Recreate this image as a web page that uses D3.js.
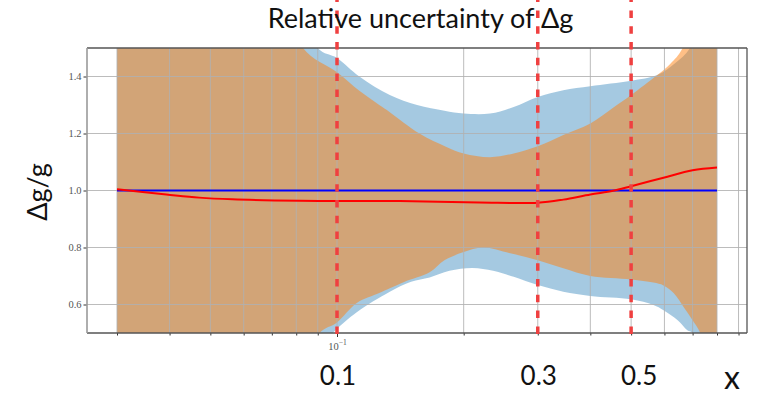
<!DOCTYPE html>
<html>
<head>
<meta charset="utf-8">
<script src="https://cdn.jsdelivr.net/npm/d3@7"></script>
<style>
  body { margin: 0; background: #fff; }
  svg { display: block; }
</style>
</head>
<body>
<svg id="chart" width="757" height="397"></svg>
<script>
// ---------- data ----------
const titleText = "Relative uncertainty of Δg";
const yLabelText = "Δg/g";
const xLabelText = "x";

const yTicks = [0.6, 0.8, 1.0, 1.2, 1.4];
const xMinorTicks = [0.03, 0.04, 0.05, 0.06, 0.07, 0.08, 0.09, 0.2, 0.3, 0.4, 0.5, 0.6, 0.7, 0.8, 0.9];
const xMajorTicks = [0.1];

const markX = [0.1, 0.3, 0.5];
const markLabels = ["0.1", "0.3", "0.5"];

// central value of the ratio
const centralX = [0.03, 0.0393, 0.047, 0.0564, 0.0815, 0.1, 0.141, 0.218, 0.3, 0.345, 0.4, 0.453, 0.5, 0.597, 0.7, 0.8];
const centralY = [1.004, 0.986, 0.975, 0.969, 0.964, 0.963, 0.963, 0.958, 0.957, 0.968, 0.986, 0.999, 1.015, 1.045, 1.071, 1.081];

// reference line
const refX = [0.03, 0.8];
const refY = [1.0, 1.0];

// blue band edges [x, value]
const blueUpper = [[0.03, 3.5], [0.05, 2.6], [0.07, 1.95], [0.09, 1.5], [0.1, 1.465], [0.113, 1.40],
  [0.1335, 1.335], [0.155, 1.30], [0.18, 1.28], [0.2, 1.27], [0.231, 1.27], [0.263, 1.293],
  [0.3, 1.328], [0.345, 1.352], [0.4, 1.366], [0.5, 1.385], [0.577, 1.405], [0.64, 1.45],
  [0.69, 1.5], [0.8, 1.75]];
const blueLower = [[0.03, -1.0], [0.06, 0.0], [0.08, 0.35], [0.0977, 0.5], [0.1114, 0.573],
  [0.1335, 0.645], [0.15, 0.68], [0.166, 0.695], [0.185, 0.718], [0.21, 0.728], [0.235, 0.718],
  [0.263, 0.697], [0.3, 0.668], [0.345, 0.645], [0.4, 0.63], [0.5, 0.618], [0.565, 0.598],
  [0.597, 0.58], [0.645, 0.545], [0.68, 0.51], [0.7, 0.5], [0.8, 0.2]];

// orange band edges [x, value]
const orangeUpper = [[0.03, 3.2], [0.05, 2.3], [0.07, 1.8], [0.083, 1.5], [0.1, 1.415], [0.113, 1.35],
  [0.126, 1.30], [0.1335, 1.275], [0.157, 1.20], [0.182, 1.153], [0.2, 1.13], [0.231, 1.117],
  [0.263, 1.13], [0.3, 1.155], [0.345, 1.195], [0.4, 1.235], [0.453, 1.29], [0.5, 1.335],
  [0.577, 1.405], [0.62, 1.445], [0.663, 1.5], [0.8, 1.9]];
const orangeLower = [[0.03, -1.5], [0.06, -0.2], [0.08, 0.3], [0.0909, 0.5], [0.1, 0.537],
  [0.1114, 0.605], [0.126, 0.64], [0.1335, 0.657], [0.1448, 0.68], [0.166, 0.713], [0.18, 0.755],
  [0.2, 0.784], [0.222, 0.80], [0.258, 0.78], [0.3, 0.755], [0.345, 0.727], [0.4, 0.70],
  [0.5, 0.688], [0.565, 0.677], [0.597, 0.667], [0.631, 0.64], [0.667, 0.59], [0.7, 0.545],
  [0.73, 0.5], [0.8, 0.3]];

// ---------- layout ----------
const plot = { left: 87, right: 747, top: 48, bottom: 333 };

// log axis with 5% padding around the data range (in log space)
const dataMin = 0.03, dataMax = 0.8;
const lmin = Math.log10(dataMin), lmax = Math.log10(dataMax);
const pad = 0.05 * (lmax - lmin);
const x = d3.scaleLog()
  .domain([Math.pow(10, lmin - pad), Math.pow(10, lmax + pad)])
  .range([plot.left, plot.right]);
const y = d3.scaleLinear().domain([0.5, 1.5]).range([plot.bottom, plot.top]);

const svg = d3.select("#chart");

svg.append("defs").append("clipPath").attr("id", "plotClip")
  .append("rect")
  .attr("x", plot.left).attr("y", plot.top)
  .attr("width", plot.right - plot.left).attr("height", plot.bottom - plot.top);

const smooth = d3.curveCatmullRom.alpha(0.5);
const edgeLine = d3.line().x(d => x(d[0])).y(d => y(d[1])).curve(smooth);

function bandPath(upper, lower) {
  const up = edgeLine(upper);
  const low = edgeLine(lower.slice().reverse());
  return up + "L" + low.slice(1) + "Z";
}

const bands = svg.append("g").attr("clip-path", "url(#plotClip)");
bands.append("path")
  .attr("d", bandPath(blueUpper, blueLower))
  .attr("fill", "#1f77b4").attr("fill-opacity", 0.4);
bands.append("path")
  .attr("d", bandPath(orangeUpper, orangeLower))
  .attr("fill", "#ff7f0e").attr("fill-opacity", 0.5);

// grid
const grid = svg.append("g").attr("stroke", "#b0b0b0").attr("stroke-width", 1).attr("stroke-opacity", 0.85);
xMinorTicks.concat(xMajorTicks).forEach(v => {
  grid.append("line")
    .attr("x1", x(v)).attr("x2", x(v))
    .attr("y1", plot.top).attr("y2", plot.bottom);
});
yTicks.forEach(v => {
  grid.append("line")
    .attr("x1", plot.left).attr("x2", plot.right)
    .attr("y1", y(v)).attr("y2", y(v));
});

// lines
const seriesLine = d3.line().x(d => x(d[0])).y(d => y(d[1])).curve(smooth);
svg.append("path")
  .attr("d", seriesLine(refX.map((v, i) => [v, refY[i]])))
  .attr("fill", "none").attr("stroke", "#0000ff").attr("stroke-width", 2);
svg.append("path")
  .attr("d", seriesLine(centralX.map((v, i) => [v, centralY[i]])))
  .attr("fill", "none").attr("stroke", "#ff0000").attr("stroke-width", 2);

// axes
const tickFont = "'Liberation Serif', 'DejaVu Serif', serif";

const yAxis = d3.axisLeft(y).tickValues(yTicks).tickSize(3.5).tickPadding(2)
  .tickFormat(d3.format(".1f"));
const yG = svg.append("g").attr("transform", `translate(${plot.left},0)`).call(yAxis);
yG.select(".domain").remove();
yG.selectAll(".tick line").attr("stroke", "#333");
yG.selectAll(".tick text").attr("font-family", tickFont).attr("font-size", 10.5).attr("fill", "#555");

const xMinorAxis = d3.axisBottom(x).tickValues(xMinorTicks).tickSize(2.5).tickFormat("");
const xMinorG = svg.append("g").attr("transform", `translate(0,${plot.bottom})`).call(xMinorAxis);
xMinorG.select(".domain").remove();
xMinorG.selectAll(".tick line").attr("stroke", "#333");

const xMajorAxis = d3.axisBottom(x).tickValues(xMajorTicks).tickSize(4).tickPadding(3).tickFormat("");
const xMajorG = svg.append("g").attr("transform", `translate(0,${plot.bottom})`).call(xMajorAxis);
xMajorG.select(".domain").remove();
xMajorG.selectAll(".tick line").attr("stroke", "#333");
xMajorG.selectAll(".tick").each(function (d) {
  const t = d3.select(this).append("text")
    .attr("y", 17).attr("text-anchor", "middle")
    .attr("font-family", tickFont).attr("font-size", 10.5).attr("fill", "#555");
  t.append("tspan").text("10");
  t.append("tspan").attr("dy", -5).attr("font-size", 7.5).text("−" + Math.round(-Math.log10(d)));
});

// spines
const spines = svg.append("g").attr("fill", "none");
spines.append("line").attr("x1", plot.left).attr("x2", plot.right).attr("y1", plot.top).attr("y2", plot.top)
  .attr("stroke", "#555").attr("stroke-width", 1.3);
spines.append("line").attr("x1", plot.left).attr("x2", plot.right).attr("y1", plot.bottom).attr("y2", plot.bottom)
  .attr("stroke", "#555").attr("stroke-width", 1.3);
spines.append("line").attr("x1", plot.right).attr("x2", plot.right).attr("y1", plot.top).attr("y2", plot.bottom)
  .attr("stroke", "#555").attr("stroke-width", 1.3);
spines.append("line").attr("x1", plot.left).attr("x2", plot.left).attr("y1", plot.top).attr("y2", plot.bottom)
  .attr("stroke", "#9a9a9a").attr("stroke-width", 1.6);

// dashed markers
markX.forEach(v => {
  svg.append("line")
    .attr("x1", x(v)).attr("x2", x(v))
    .attr("y1", -5.4).attr("y2", 335)
    .attr("stroke", "#ef4040").attr("stroke-width", 3.5)
    .attr("stroke-dasharray", "7.5,8.3");
});

// annotation text
const annoFont = "Lato, 'Open Sans', sans-serif";
svg.append("text")
  .attr("x", 420.5).attr("y", 28)
  .attr("text-anchor", "middle")
  .attr("font-family", annoFont).attr("font-size", 27).attr("fill", "#111")
  .text(titleText);

svg.append("text")
  .attr("transform", "translate(47,192) rotate(-90)")
  .attr("text-anchor", "middle")
  .attr("font-family", annoFont).attr("font-size", 27).attr("fill", "#111")
  .text(yLabelText);

markX.forEach((v, i) => {
  svg.append("text")
    .attr("x", x(v) + (i === 2 ? 8 : 1)).attr("y", 385)
    .attr("text-anchor", "middle")
    .attr("font-family", annoFont).attr("font-size", 26).attr("fill", "#111")
    .text(markLabels[i]);
});

svg.append("text")
  .attr("x", 732).attr("y", 389)
  .attr("text-anchor", "middle")
  .attr("font-family", annoFont).attr("font-size", 32).attr("fill", "#111")
  .text(xLabelText);
</script>
</body>
</html>
